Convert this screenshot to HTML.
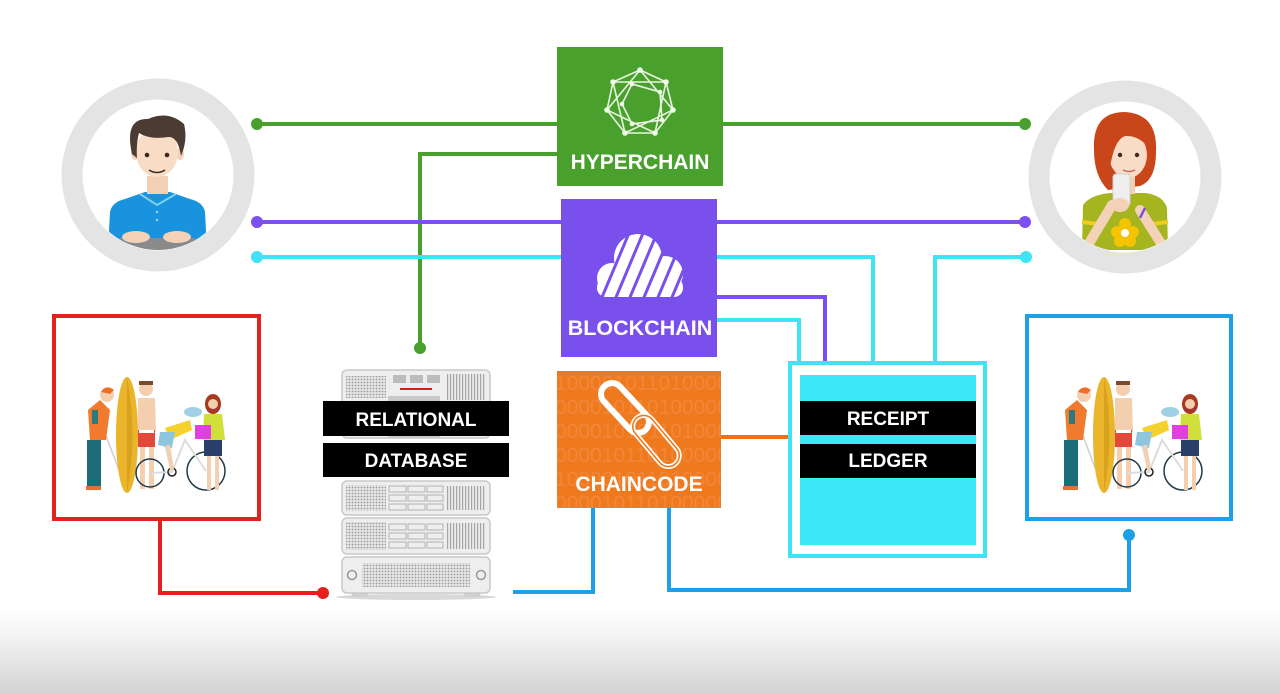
<!DOCTYPE html>
<html><head><meta charset="utf-8"><style>
html,body{margin:0;padding:0;background:#fff;}
svg{display:block;}
text{font-family:"Liberation Sans",Arial,sans-serif;font-weight:bold;}
</style></head><body>
<svg width="1280" height="693" viewBox="0 0 1280 693" xmlns="http://www.w3.org/2000/svg">
<defs>
<linearGradient id="bg" x1="0" y1="0" x2="0" y2="1">
<stop offset="0" stop-color="#ffffff"/><stop offset="0.3" stop-color="#f6f6f6"/><stop offset="1" stop-color="#d3d3d3"/>
</linearGradient>
<pattern id="dots" width="3" height="3" patternUnits="userSpaceOnUse"><rect width="3" height="3" fill="#e6e6e6"/><circle cx="1.5" cy="1.5" r="0.9" fill="#9a9a9a"/></pattern>
<pattern id="vstr" width="3" height="10" patternUnits="userSpaceOnUse"><rect width="3" height="10" fill="#ececec"/><rect width="1.2" height="10" fill="#a5a5a5"/></pattern>
<clipPath id="cc"><rect x="557" y="371" width="164" height="137"/></clipPath>
<clipPath id="manclip"><circle cx="158" cy="175" r="75"/></clipPath>
<clipPath id="womclip"><circle cx="1125" cy="177" r="75"/></clipPath>
<g id="crowd">
 <line x1="100" y1="420" x2="122" y2="478" stroke="#cfcfcf" stroke-width="1.5"/>
 <path d="M88,410 L100,400 L110,410 L106,440 L90,440 Z" fill="#f07a2d"/>
 <rect x="92" y="410" width="6" height="14" fill="#2a7a80"/>
 <circle cx="107" cy="395" r="7" fill="#f3cfb0"/>
 <path d="M101,392 Q106,384 114,390 L110,394 Z" fill="#e8702a"/>
 <rect x="87" y="440" width="14" height="48" fill="#1b6b78"/>
 <rect x="86" y="486" width="15" height="4" fill="#e8702a"/>
 <ellipse cx="127" cy="435" rx="11" ry="58" fill="#eab52a"/>
 <path d="M127,377 Q138,435 127,493 Z" fill="#d9a21e"/>
 <circle cx="146" cy="389" r="7" fill="#f3cfb0"/>
 <rect x="139" y="381" width="14" height="4" fill="#7a4a2a"/>
 <path d="M138,398 L155,398 L156,432 L138,432 Z" fill="#f3cfb0"/>
 <rect x="138" y="430" width="17" height="17" fill="#e2493a"/>
 <rect x="139" y="430" width="15" height="3" fill="#fff"/>
 <rect x="140" y="447" width="5" height="42" fill="#f3cfb0"/>
 <rect x="149" y="447" width="5" height="42" fill="#f3cfb0"/>
 <circle cx="150" cy="473" r="14" fill="none" stroke="#1f3a48" stroke-width="1.5"/>
 <circle cx="206" cy="471" r="19" fill="none" stroke="#1f3a48" stroke-width="1.5"/>
 <path d="M150,473 L172,472 L185,440 L206,471 M172,472 L165,445" stroke="#dcdcdc" stroke-width="2" fill="none"/>
 <circle cx="172" cy="472" r="4" fill="none" stroke="#222" stroke-width="1.5"/>
 <path d="M165,428 L190,420 L192,430 L170,440 Z" fill="#f5d12e"/>
 <path d="M160,432 L175,432 L172,448 L158,445 Z" fill="#8ec6e0"/>
 <path d="M168,445 L172,470" stroke="#f3cfb0" stroke-width="4"/>
 <ellipse cx="193" cy="412" rx="9" ry="5" fill="#9fd0e6"/>
 <ellipse cx="213" cy="404" rx="8" ry="10" fill="#a53a1e"/>
 <circle cx="213" cy="404" r="5" fill="#f3cfb0"/>
 <path d="M204,414 L222,414 L225,440 L203,440 Z" fill="#cfe03a"/>
 <rect x="204" y="440" width="18" height="16" fill="#2a3f6a"/>
 <rect x="195" y="425" width="16" height="14" fill="#e040e0"/>
 <rect x="207" y="456" width="4" height="34" fill="#f3cfb0"/>
 <rect x="215" y="456" width="4" height="34" fill="#f3cfb0"/>
</g>
</defs>

<rect x="0" y="0" width="1280" height="693" fill="#fff"/>
<rect x="0" y="605" width="1280" height="88" fill="url(#bg)"/>

<circle cx="158" cy="175" r="86" fill="#fff" stroke="#e4e4e4" stroke-width="21"/>
<circle cx="1125" cy="177" r="86" fill="#fff" stroke="#e4e4e4" stroke-width="21"/>

<g clip-path="url(#manclip)">
 <path d="M108,250 L110,212 Q112,202 125,199 L145,192 L170,192 L190,199 Q203,202 205,212 L207,250 Z" fill="#1a93de"/>
 <path d="M140,194 L157,205 L176,194" stroke="#7fd0f5" stroke-width="2" fill="none"/>
 <circle cx="157" cy="212" r="1.3" fill="#7fd0f5"/><circle cx="157" cy="220" r="1.3" fill="#7fd0f5"/>
 <rect x="147" y="176" width="21" height="18" fill="#f1d0b6"/>
 <ellipse cx="135" cy="154" rx="4" ry="6" fill="#f3d2b8"/>
 <ellipse cx="180" cy="154" rx="4" ry="6" fill="#f3d2b8"/>
 <ellipse cx="157" cy="152" rx="21" ry="25" fill="#f8dcc5"/>
 <path d="M132,154 Q124,118 148,119 Q168,110 184,124 Q188,140 181,156 Q178,136 168,137 Q150,140 139,133 Q136,144 137,158 Z" fill="#4b3b32"/>
 <circle cx="147" cy="155" r="2.3" fill="#3a2a22"/><circle cx="167" cy="155" r="2.3" fill="#3a2a22"/>
 <path d="M149,170 Q157,175 165,170" stroke="#3a2a22" stroke-width="1.6" fill="none"/>
 <rect x="120" y="238" width="75" height="12" fill="#8a8a8a"/>
 <ellipse cx="136" cy="237" rx="14" ry="6" fill="#f3d2b8"/>
 <ellipse cx="177" cy="237" rx="14" ry="6" fill="#f3d2b8"/>
</g>

<g clip-path="url(#womclip)">
 <path d="M1094,150 Q1092,112 1125,112 Q1158,114 1156,152 Q1156,180 1140,186 L1108,190 Q1094,176 1094,150 Z" fill="#c9461b"/>
 <path d="M1082,250 L1083,205 Q1090,195 1110,193 L1145,193 Q1163,195 1167,208 L1168,250 Z" fill="#a4b520"/>
 <path d="M1082,222 L1098,224 M1152,224 L1168,222" stroke="#eecb1e" stroke-width="4"/>
 <rect x="1119" y="176" width="16" height="18" fill="#f1d0b6"/>
 <ellipse cx="1128" cy="155" rx="19" ry="23" fill="#f8dcc5"/>
 <path d="M1106,150 Q1108,122 1132,122 Q1150,126 1150,150 Q1140,135 1125,136 Q1114,140 1110,168 Z" fill="#c9461b"/>
 <circle cx="1120" cy="155" r="2.2" fill="#3a2a22"/><circle cx="1137" cy="155" r="2.2" fill="#3a2a22"/>
 <path d="M1123,170 Q1129,173 1135,170" stroke="#c86a5a" stroke-width="1.5" fill="none"/>
 <path d="M1088,245 L1112,205" stroke="#f3d2b8" stroke-width="10" stroke-linecap="round"/>
 <path d="M1162,245 L1140,210" stroke="#f3d2b8" stroke-width="10" stroke-linecap="round"/>
 <rect x="1113" y="174" width="17" height="32" rx="3" fill="#efefef" stroke="#d0d0d0"/>
 <ellipse cx="1120" cy="205" rx="9" ry="7" fill="#f3d2b8"/>
 <line x1="1140" y1="218" x2="1145" y2="208" stroke="#7a4fe0" stroke-width="2.5"/>
 <g fill="#f5c400"><circle cx="1125" cy="224" r="6"/><circle cx="1117" cy="232" r="6"/><circle cx="1133" cy="232" r="6"/><circle cx="1120" cy="241" r="6"/><circle cx="1130" cy="241" r="6"/></g>
 <circle cx="1125" cy="233" r="4" fill="#fff"/>
</g>

<g fill="none" stroke-width="4">
 <path d="M257,124 H557 M723,124 H1025 M557,154 H420 V348" stroke="#4aa02c"/>
 <path d="M257,222 H561 M717,222 H1025 M717,297 H825 V363" stroke="#7c4ff0"/>
 <path d="M257,257 H561 M717,257 H873 V363 M935,363 V257 H1026 M717,320 H799 V363" stroke="#3fe3f5"/>
 <path d="M721,437 H800" stroke="#ee6f1c"/>
 <path d="M160,520 V593 H323" stroke="#e3211d"/>
 <path d="M593,508 V592 H513 M669,508 V590 H1129 V535" stroke="#1ea0e6"/>
</g>
<g>
 <circle cx="257" cy="124" r="6" fill="#4aa02c"/><circle cx="1025" cy="124" r="6" fill="#4aa02c"/><circle cx="420" cy="348" r="6" fill="#4aa02c"/>
 <circle cx="257" cy="222" r="6" fill="#7c4ff0"/><circle cx="1025" cy="222" r="6" fill="#7c4ff0"/>
 <circle cx="257" cy="257" r="6" fill="#3fe3f5"/><circle cx="1026" cy="257" r="6" fill="#3fe3f5"/>
 <circle cx="323" cy="593" r="6" fill="#e3211d"/>
 <circle cx="1129" cy="535" r="6" fill="#1ea0e6"/>
</g>

<rect x="54" y="316" width="205" height="203" fill="#fff" stroke="#e3211d" stroke-width="4"/>
<rect x="1027" y="316" width="204" height="203" fill="#fff" stroke="#1ea0e6" stroke-width="4"/>
<use href="#crowd"/>
<use href="#crowd" transform="translate(977,0)"/>

<rect x="557" y="47" width="166" height="139" fill="#4aa02c"/>
<g stroke="#e8f5e0" stroke-width="1.6" fill="none">
 <polygon points="640,70 666,82 673,110 655,133 625,133 607,110 613,82"/>
 <polygon points="640,70 673,110 625,133 613,82 666,82 655,133 607,110"/>
 <polygon points="632,84 660,92 662,120 632,124 622,104"/>
</g>
<g fill="#f0fbe8">
 <circle cx="640" cy="70" r="2.8"/><circle cx="666" cy="82" r="2.8"/><circle cx="673" cy="110" r="2.8"/><circle cx="655" cy="133" r="2.8"/><circle cx="625" cy="133" r="2.8"/><circle cx="607" cy="110" r="2.8"/><circle cx="613" cy="82" r="2.8"/>
 <circle cx="632" cy="84" r="2.3"/><circle cx="660" cy="92" r="2.3"/><circle cx="662" cy="120" r="2.3"/><circle cx="632" cy="124" r="2.3"/><circle cx="622" cy="104" r="2.3"/>
</g>
<text x="640" y="169" font-size="21" fill="#fff" text-anchor="middle">HYPERCHAIN</text>

<rect x="561" y="199" width="156" height="158" fill="#7a50ec"/>
<g fill="#fff">
 <circle cx="612" cy="278" r="15"/>
 <circle cx="638" cy="258" r="24"/>
 <circle cx="665" cy="274" r="18"/>
 <rect x="597" y="278" width="86" height="19" rx="9"/>
</g>
<g stroke="#7a50ec" stroke-width="3">
 <line x1="600" y1="302" x2="632" y2="226"/>
 <line x1="614" y1="302" x2="646" y2="226"/>
 <line x1="628" y1="302" x2="660" y2="226"/>
 <line x1="642" y1="302" x2="674" y2="226"/>
 <line x1="656" y1="302" x2="688" y2="226"/>
 <line x1="670" y1="302" x2="702" y2="226"/>
</g>
<text x="640" y="335" font-size="21.5" fill="#fff" text-anchor="middle">BLOCKCHAIN</text>

<rect x="557" y="371" width="164" height="137" fill="#ef7a1e"/>
<g clip-path="url(#cc)" font-size="21" fill="#f1863a">
 <text x="555" y="390" style="font-weight:normal">10000101101000001</text>
 <text x="555" y="414" style="font-weight:normal">00001011010000010</text>
 <text x="555" y="438" style="font-weight:normal">00001010110100001</text>
 <text x="555" y="462" style="font-weight:normal">00001011010000010</text>
 <text x="555" y="486" style="font-weight:normal">10000101101000001</text>
 <text x="555" y="510" style="font-weight:normal">00001011010000010</text>
</g>
<rect x="595" y="397" width="60" height="22" rx="11" transform="rotate(47 625 408)" fill="none" stroke="#fff" stroke-width="6"/>
<rect x="626" y="430" width="60" height="22" rx="11" transform="rotate(50 656 441)" fill="none" stroke="#fff" stroke-width="5"/>
<rect x="626" y="430" width="60" height="22" rx="11" transform="rotate(50 656 441)" fill="none" stroke="#ef7a1e" stroke-width="1.6"/>
<text x="639" y="491" font-size="21" fill="#fff" text-anchor="middle">CHAINCODE</text>

<rect x="790" y="363" width="195" height="193" fill="#fff" stroke="#3fe3f5" stroke-width="4"/>
<rect x="800" y="375" width="176" height="170" fill="#3de8f6"/>
<rect x="800" y="401" width="176" height="34" fill="#000"/>
<rect x="800" y="444" width="176" height="34" fill="#000"/>
<text x="888" y="425" font-size="19" fill="#fff" text-anchor="middle">RECEIPT</text>
<text x="888" y="467" font-size="19" fill="#fff" text-anchor="middle">LEDGER</text>

<ellipse cx="416" cy="597" rx="80" ry="3" fill="#d8d8d8"/>
<rect x="352" y="591" width="16" height="6" fill="#cfcfcf"/><rect x="464" y="591" width="16" height="6" fill="#cfcfcf"/>
<g stroke="#c9c9c9" stroke-width="1.5">
 <rect x="342" y="370" width="148" height="68" rx="5" fill="#eeeeee"/>
 <rect x="342" y="481" width="148" height="34" rx="5" fill="#eeeeee"/>
 <rect x="342" y="518" width="148" height="36" rx="5" fill="#eeeeee"/>
 <rect x="342" y="557" width="148" height="36" rx="5" fill="#eeeeee"/>
</g>
<rect x="346" y="376" width="40" height="22" fill="url(#dots)"/>
<rect x="393" y="375" width="13" height="8" fill="#bcbcbc"/><rect x="410" y="375" width="13" height="8" fill="#bcbcbc"/><rect x="427" y="375" width="13" height="8" fill="#bcbcbc"/>
<line x1="400" y1="389" x2="432" y2="389" stroke="#d42020" stroke-width="2"/>
<rect x="446" y="374" width="40" height="26" fill="url(#vstr)"/>
<rect x="388" y="396" width="52" height="42" fill="#c9c9c9"/>
<rect x="346" y="485" width="40" height="26" fill="url(#dots)"/>
<rect x="346" y="522" width="40" height="28" fill="url(#dots)"/>
<g fill="none" stroke="#bdbdbd" stroke-width="1.2">
 <rect x="389" y="486" width="17" height="6"/><rect x="408" y="486" width="17" height="6"/><rect x="427" y="486" width="16" height="6"/>
 <rect x="389" y="495" width="17" height="6"/><rect x="408" y="495" width="17" height="6"/><rect x="427" y="495" width="16" height="6"/>
 <rect x="389" y="504" width="17" height="6"/><rect x="408" y="504" width="17" height="6"/><rect x="427" y="504" width="16" height="6"/>
 <rect x="389" y="524" width="17" height="6"/><rect x="408" y="524" width="17" height="6"/><rect x="427" y="524" width="16" height="6"/>
 <rect x="389" y="533" width="17" height="6"/><rect x="408" y="533" width="17" height="6"/><rect x="427" y="533" width="16" height="6"/>
 <rect x="389" y="542" width="17" height="6"/><rect x="408" y="542" width="17" height="6"/><rect x="427" y="542" width="16" height="6"/>
</g>
<rect x="446" y="486" width="40" height="24" fill="url(#vstr)"/>
<rect x="446" y="523" width="40" height="26" fill="url(#vstr)"/>
<circle cx="352" cy="575" r="4.5" fill="none" stroke="#999" stroke-width="1.5"/>
<circle cx="481" cy="575" r="4.5" fill="none" stroke="#999" stroke-width="1.5"/>
<rect x="362" y="563" width="108" height="24" fill="url(#dots)"/>
<rect x="323" y="401" width="186" height="35" fill="#000"/>
<rect x="323" y="443" width="186" height="34" fill="#000"/>
<text x="416" y="426" font-size="19" fill="#fff" text-anchor="middle">RELATIONAL</text>
<text x="416" y="467" font-size="19" fill="#fff" text-anchor="middle">DATABASE</text>
</svg>
</body></html>
